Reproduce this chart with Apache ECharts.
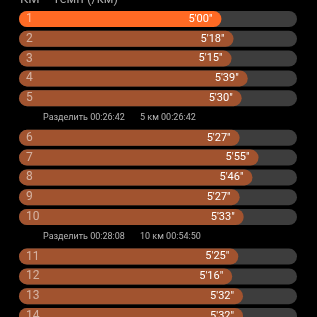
<!DOCTYPE html>
<html>
<head>
<meta charset="utf-8">
<script src="https://cdn.jsdelivr.net/npm/echarts@6/dist/echarts.min.js"></script>
<style>
  html, body { margin: 0; padding: 0; background: #000; }
  #chart { width: 317px; height: 317px; }
</style>
</head>
<body>
<div id="chart"></div>
<script>
// данные по километрам
const kms = [1, 2, 3, 4, 5, 6, 7, 8, 9, 10, 11, 12, 13, 14];
const paceSec = [300, 318, 315, 339, 330, 327, 355, 346, 327, 333, 325, 316, 332, 332];
// отсечки
const splitAfter = [5, 10];
const splitTimes = ['00:26:42', '00:28:08'];
const totalTimes = ['5 км 00:26:42', '10 км 00:54:50'];

const trackMax = 412;
const fastColor = '#ff6a24';
const baseColor = '#a1532f';

function fmtPace(s) {
  const m = Math.floor(s / 60);
  const r = s % 60;
  return m + "'" + (r < 10 ? '0' + r : r) + '"';
}

// строим строки: километры + строки отсечек
const categories = [];
const paceData = [];
const trackData = [];
const fastest = Math.min(...paceSec);
kms.forEach((km, i) => {
  categories.push(String(km));
  paceData.push({
    value: paceSec[i],
    itemStyle: { color: paceSec[i] === fastest ? fastColor : baseColor }
  });
  trackData.push(trackMax);
  const si = splitAfter.indexOf(km);
  if (si >= 0) {
    categories.push('sep' + si);
    paceData.push('-');
    trackData.push('-');
  }
});

const rowH = 19.8;
const myChart = echarts.init(document.getElementById('chart'));
myChart.setOption({
  backgroundColor: '#000',
  animation: false,
  textStyle: { fontFamily: 'Roboto' },
  graphic: [{
    type: 'text',
    left: 20,
    top: -7,
    style: {
      text: 'КМ    Темп (/км)',
      fill: '#a8a8a8',
      font: '13px Roboto'
    }
  }],
  grid: {
    left: 19, right: 20, top: 19 - rowH / 2, height: rowH * categories.length,
    outerBoundsMode: 'none'
  },
  xAxis: {
    type: 'value', min: 0, max: trackMax,
    show: false
  },
  yAxis: {
    type: 'category',
    inverse: true,
    data: categories,
    z: 10,
    axisLine: { show: false },
    axisTick: { show: false },
    axisLabel: {
      inside: true,
      margin: 7,
      formatter: function (v) {
        if (v.indexOf('sep') === 0) {
          const si = +v.slice(3);
          return '{a|Разделить ' + splitTimes[si] + '}{b|' + totalTimes[si] + '}';
        }
        return '{n|' + v + '}';
      },
      rich: {
        n: { color: 'rgba(255,255,255,0.55)', fontSize: 12, fontFamily: 'Roboto' },
        a: { color: '#b4b4b4', fontSize: 9, fontFamily: 'Roboto', width: 97, padding: [0, 0, 0, 17] },
        b: { color: '#b4b4b4', fontSize: 9, fontFamily: 'Roboto' }
      }
    }
  },
  series: [
    {
      type: 'bar',
      data: trackData,
      barWidth: 16,
      barGap: '-100%',
      z: 1,
      silent: true,
      itemStyle: { color: '#3d3d3d', borderRadius: 8 }
    },
    {
      type: 'bar',
      data: paceData,
      barWidth: 16,
      barGap: '-100%',
      z: 2,
      itemStyle: { borderRadius: 8 },
      label: {
        show: true,
        position: 'insideRight',
        distance: 9,
        color: '#fff',
        fontSize: 11,
        fontFamily: 'Roboto',
        formatter: p => fmtPace(p.value)
      }
    }
  ]
});
</script>
</body>
</html>
